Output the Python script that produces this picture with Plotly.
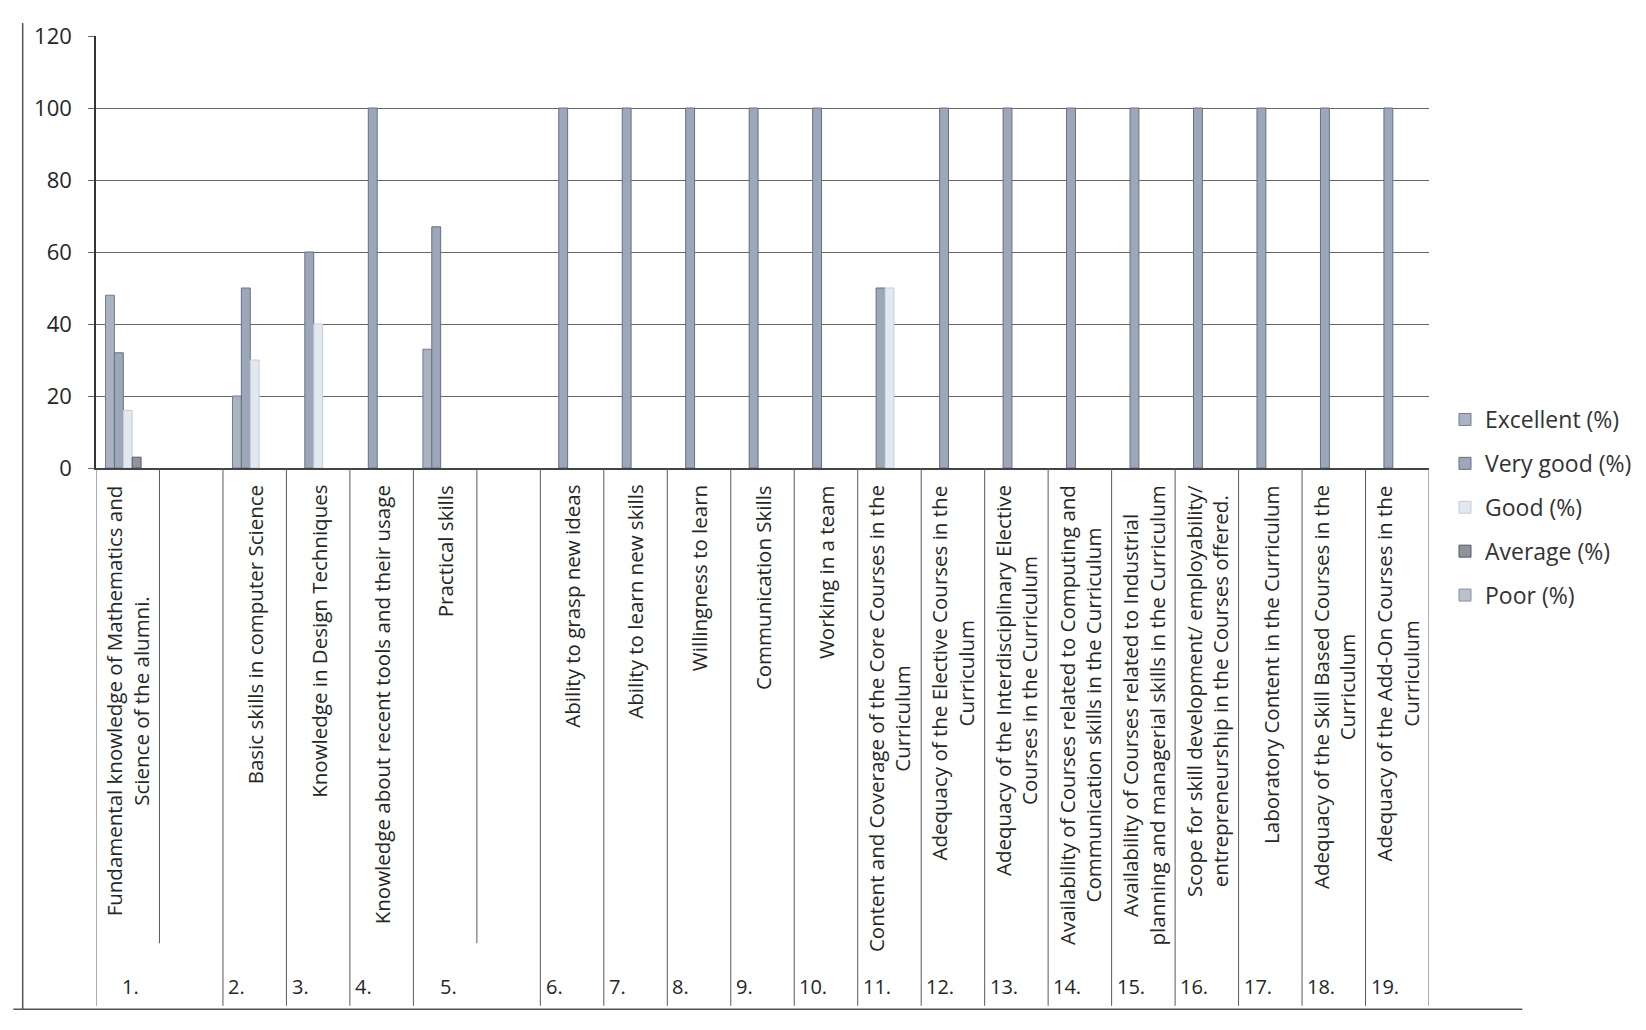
import plotly.graph_objects as go

# ---- data ----
categories = [
    "Fundamental knowledge of Mathematics and<br>Science of the alumni.",
    "",
    "Basic skills in computer Science",
    "Knowledge in Design Techniques",
    "Knowledge about recent tools and their usage",
    "Practical skills",
    "",
    "Ability to grasp new ideas",
    "Ability to learn new skills",
    "Willingness to learn",
    "Communication Skills",
    "Working in a team",
    "Content and Coverage of the Core Courses in the<br>Curriculum",
    "Adequacy of the Elective Courses in the<br>Curriculum",
    "Adequacy of the Interdisciplinary Elective<br>Courses in the Curriculum",
    "Availability of Courses related to Computing and<br>Communication skills in the Curriculum",
    "Availability of Courses related to Industrial<br>planning and managerial skills in the Curriculum",
    "Scope for skill development/ employability/<br>entrepreneurship in the Courses offered.",
    "Laboratory Content in the Curriculum",
    "Adequacy of the Skill Based Courses in the<br>Curriculum",
    "Adequacy of the Add-On Courses in the<br>Curriculum",
]
# outer numbering: (label, first category index, number of categories spanned)
groups = [("1.", 0, 2), ("2.", 2, 1), ("3.", 3, 1), ("4.", 4, 1), ("5.", 5, 2),
          ("6.", 7, 1), ("7.", 8, 1), ("8.", 9, 1), ("9.", 10, 1), ("10.", 11, 1),
          ("11.", 12, 1), ("12.", 13, 1), ("13.", 14, 1), ("14.", 15, 1), ("15.", 16, 1),
          ("16.", 17, 1), ("17.", 18, 1), ("18.", 19, 1), ("19.", 20, 1)]

series_names = ["Excellent (%)", "Very good (%)", "Good (%)", "Average (%)", "Poor (%)"]
excellent = [48, 0, 20, 0, 0, 33, 0, 0, 0, 0, 0, 0, 0, 0, 0, 0, 0, 0, 0, 0, 0]
very_good = [32, 0, 50, 60, 100, 67, 0, 100, 100, 100, 100, 100, 50, 100, 100, 100, 100, 100, 100, 100, 100]
good      = [16, 0, 30, 40, 0, 0, 0, 0, 0, 0, 0, 0, 50, 0, 0, 0, 0, 0, 0, 0, 0]
average   = [3, 0, 0, 0, 0, 0, 0, 0, 0, 0, 0, 0, 0, 0, 0, 0, 0, 0, 0, 0, 0]
poor      = [0, 0, 0, 0, 0, 0, 0, 0, 0, 0, 0, 0, 0, 0, 0, 0, 0, 0, 0, 0, 0]
series_values = [excellent, very_good, good, average, poor]
y_ticks = [0, 20, 40, 60, 80, 100, 120]

# ---- style ----
fill_colors = ["#aab3c1", "#9ca8ba", "#e2e8f0", "#8e939c", "#b9c1cd"]
line_colors = ["#737b89", "#66707f", "#c4ccd6", "#555a63", "#8a93a0"]
FONT = "Open Sans"
TXT = "#262626"

x_idx = list(range(len(categories)))
fig = go.Figure()
for name, vals, fc, lc in zip(series_names, series_values, fill_colors, line_colors):
    fig.add_trace(go.Bar(
        name=name, x=x_idx, y=[v if v else None for v in vals],
        marker=dict(color=fc, line=dict(color=lc, width=1)),
        legendgroup=name,
    ))

fig.update_layout(
    width=1646, height=1030,
    paper_bgcolor="white", plot_bgcolor="white",
    margin=dict(l=88, r=225, t=20, b=570),
    barmode="group", bargap=0.30, bargroupgap=0,
    font=dict(family=FONT, color=TXT, size=20),
    legend=dict(x=1.012, y=0.162, xanchor="left", yanchor="top",
                font=dict(size=23, color="#333333", family=FONT),
                tracegroupgap=11, itemwidth=30, bgcolor="rgba(0,0,0,0)"),
    showlegend=True,
)
fig.update_xaxes(range=[-0.5, len(categories) - 0.5], showticklabels=False,
                 showgrid=False, zeroline=False, showline=True,
                 linecolor="#444444", linewidth=1.5, ticks="")
fig.update_yaxes(range=[0, 120], tickvals=y_ticks, showgrid=True,
                 gridcolor="#666666", gridwidth=1.2, zeroline=False,
                 showline=True, linecolor="#333333", linewidth=1.5,
                 ticks="outside", ticklen=6, tickcolor="#666666",
                 ticklabelstandoff=12,
                 tickfont=dict(size=22, color=TXT, family=FONT))

# category labels (rotated)
for i, lab in enumerate(categories):
    if lab:
        fig.add_annotation(x=i, xref="x", y=-0.035, yref="paper",
                           text=lab, textangle=-90, showarrow=False,
                           xanchor="center", yanchor="top", align="center",
                           font=dict(size=20.5, color=TXT, family=FONT))

# separators in label table
y_bottom = -1.245
y_inner = -1.10
for lab, start, span in groups:
    fig.add_shape(type="line", xref="x", yref="paper",
                  x0=start - 0.5, x1=start - 0.5, y0=0, y1=y_bottom,
                  line=dict(color="#5a5a5a", width=1))
    for k in range(1, span):
        fig.add_shape(type="line", xref="x", yref="paper",
                      x0=start + k - 0.5, x1=start + k - 0.5, y0=0, y1=y_inner,
                      line=dict(color="#5a5a5a", width=1))
    if span > 1:
        fig.add_annotation(x=start + 0.05, xref="x", y=-1.2, yref="paper",
                           text=lab, showarrow=False, xanchor="center", yanchor="middle",
                           font=dict(size=20, color=TXT, family=FONT))
    else:
        fig.add_annotation(x=start - 0.45, xref="x", y=-1.2, yref="paper",
                           text=lab, showarrow=False, xanchor="left", yanchor="middle",
                           font=dict(size=20, color=TXT, family=FONT))
fig.add_shape(type="line", xref="x", yref="paper",
              x0=len(categories) - 0.5, x1=len(categories) - 0.5, y0=0, y1=y_bottom,
              line=dict(color="#5a5a5a", width=1))

# chart border (left and bottom)
fig.add_shape(type="line", xref="paper", yref="paper", x0=-0.055, x1=-0.055,
              y0=1.03, y1=-1.253, line=dict(color="#555555", width=1.5))
fig.add_shape(type="line", xref="paper", yref="paper", x0=-0.062, x1=1.07,
              y0=-1.253, y1=-1.253, line=dict(color="#555555", width=1.5))

fig.write_html("out.html")
